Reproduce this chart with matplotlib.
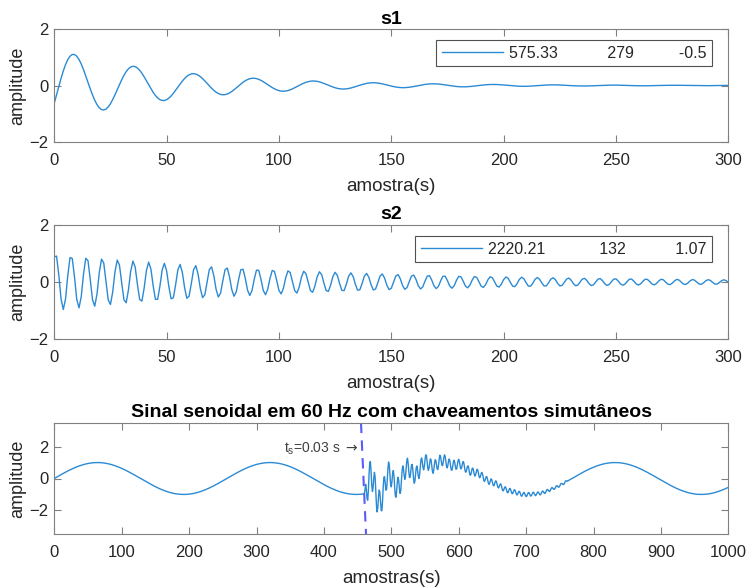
import numpy as np
import matplotlib
matplotlib.use("Agg")
import matplotlib.pyplot as plt

plt.rcParams['font.family'] = ['Liberation Sans', 'DejaVu Sans']

# ---- data (legend parameters) ----
fs = 15360.0                     # sampling rate (256 samples per 60 Hz cycle)
f0 = 60.0                        # fundamental
freqs = [575.33, 2220.21]        # legend: frequency of s1, s2
damps = [279.0, 132.0]           # legend: damping of s1, s2
phases = [-0.5, 1.07]            # legend: phase of s1, s2
amps = [1.3, 1.0]                # amplitudes
n_trans = 300                    # transient length (samples)
n_total = 1000                   # length of third signal
t_switch = 0.03                  # switching instant (s)
legend_labels = ["575.33" + " " * 11 + "279" + " " * 10 + "-0.5",
                 "2220.21" + " " * 12 + "132" + " " * 11 + "1.07"]
titles = ["s1", "s2", "Sinal senoidal em 60 Hz com chaveamentos simutâneos"]

n = np.arange(n_trans + 1)
s = [a * np.exp(-d * n / fs) * np.sin(2 * np.pi * f * n / fs + p)
     for a, d, f, p in zip(amps, damps, freqs, phases)]

N = np.arange(n_total + 1)
base = np.sin(2 * np.pi * f0 * N / fs)
k0 = int(round(t_switch * fs))
sig = base.copy()
seg = slice(k0, min(k0 + n_trans, n_total + 1))
L = seg.stop - seg.start
sig[seg] += s[0][:L] + s[1][:L]

W, H = 750, 588
fig = plt.figure(figsize=(W / 100, H / 100), dpi=100)

def px_axes(left, right, top, bottom):
    return fig.add_axes([left / W, 1 - bottom / H, (right - left) / W, (bottom - top) / H])

line_c = '#2b8ad4'
txt_c = '#262626'
edge_c = '#808080'

def style(ax):
    for sp in ax.spines.values():
        sp.set_color(edge_c)
        sp.set_linewidth(0.8)
    ax.tick_params(direction='in', length=5, width=0.8, color=edge_c,
                   labelcolor=txt_c, labelsize=12, top=True, right=True)
    ax.tick_params(axis='x', pad=8)
    ax.tick_params(axis='y', pad=4)
    ax.yaxis.set_label_coords(-0.041, 0.5)

ax1 = px_axes(54.3, 728.3, 29.3, 141.7)
ax2 = px_axes(54.3, 728.3, 225, 339)
ax3 = px_axes(54.3, 728.3, 422.7, 534.3)

leg_anchor = [(1 - 16 / 674, 1 - 10.7 / 112.4), (1 - 16 / 674, 1 - 11 / 114)]

for ax, sig_i, lab, ttl, anc in zip([ax1, ax2], s, legend_labels, titles[:2], leg_anchor):
    ax.plot(n, sig_i, color=line_c, lw=1.0, label=lab)
    ax.set_xlim(0, 300)
    ax.set_ylim(-2, 2)
    ax.set_yticks([-2, 0, 2])
    ax.set_xticks(np.arange(0, 301, 50))
    ax.set_xlabel("amostra(s)", fontsize=13.5, color=txt_c, labelpad=7)
    ax.set_ylabel("amplitude", fontsize=13, color=txt_c)
    ax.set_title(ttl, fontsize=14, fontweight='bold', color='black', pad=4)
    leg = ax.legend(loc='upper right', fontsize=11.5, frameon=True, fancybox=False,
                    handlelength=3.8, handletextpad=0.42, borderpad=0.35,
                    borderaxespad=0, bbox_to_anchor=anc)
    leg.get_frame().set_edgecolor('#262626')
    leg.get_frame().set_linewidth(0.8)
    for t in leg.get_texts():
        t.set_color(txt_c)
    style(ax)

ax3.plot(N, sig, color=line_c, lw=1.0)
ax3.plot([455, 462.5], [3.5, -3.5], color='#5a5aff', lw=1.5, ls=(0, (5, 3.5)))
ax3.text(451, 1.85, r"t$_\mathregular{s}$=0.03 s $\rightarrow$", fontsize=10,
         color='#404040', ha='right', va='center')
ax3.set_xlim(0, 1000)
ax3.set_ylim(-3.5, 3.5)
ax3.set_yticks([-2, 0, 2])
ax3.set_xticks(np.arange(0, 1001, 100))
ax3.set_xlabel("amostras(s)", fontsize=13.5, color=txt_c, labelpad=7)
ax3.set_ylabel("amplitude", fontsize=13, color=txt_c)
ax3.set_title(titles[2], fontsize=14, fontweight='bold', color='black', pad=4)
style(ax3)

fig.savefig("out.png", dpi=100)
